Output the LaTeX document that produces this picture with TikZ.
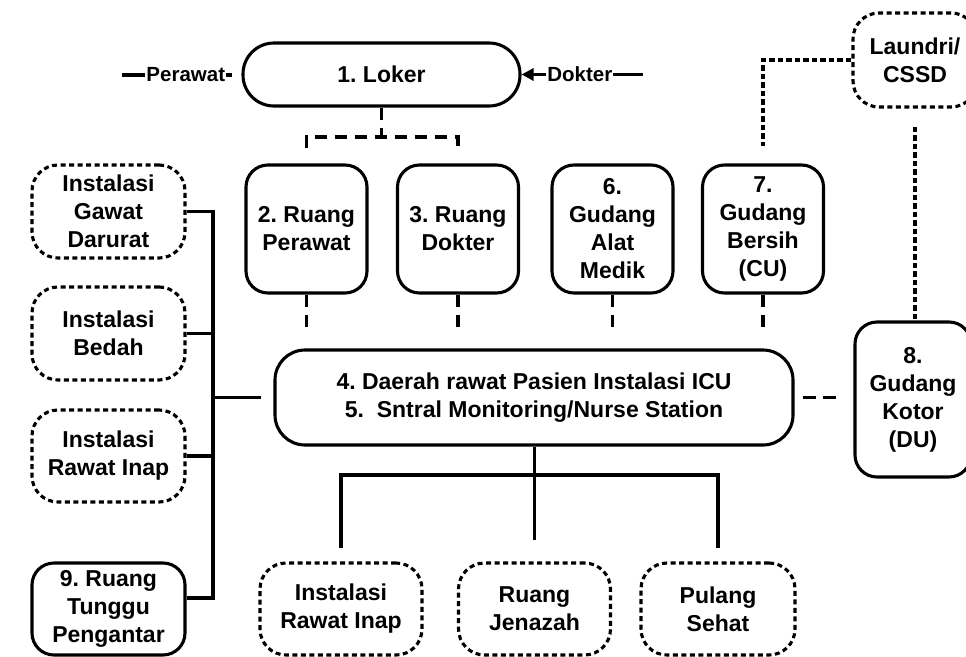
\documentclass[tikz,border=0pt]{standalone}
\usepackage{fontspec}
\setmainfont{Liberation Sans}
\usetikzlibrary{arrows.meta}
\frenchspacing
\newcommand\bxfont{\fontsize{23}{28}\selectfont\bfseries}
\newcommand\lblfont{\fontsize{20.5}{24}\selectfont\bfseries}
\tikzset{
  solidbox/.style={draw, line width=3.1pt, rounded corners=22pt, align=center,
    font=\bxfont, inner sep=0pt},
  dashbox/.style={solidbox, rounded corners=26pt, dash pattern=on 5pt off 3.5pt},
  conn/.style={line width=3.1pt},
  bigdash/.style={conn, dash pattern=on 12pt off 8pt},
  meddash/.style={conn, dash pattern=on 13pt off 7pt},
  dotline/.style={conn, dash pattern=on 5.5pt off 3pt},
  onlabel/.style={fill=white, inner sep=1pt, font=\lblfont},
}
\begin{document}
\begin{tikzpicture}[x=1pt, y=-1pt]
\useasboundingbox (0,0) rectangle (966,656);

% top: lockers
\node[solidbox, rounded corners=31pt, minimum width=277pt, minimum height=63pt] (loker) at (381.5,74.5) {1. Loker};

% row of rooms
\node[solidbox, minimum width=121pt, minimum height=128pt] (r2) at (306.5,229) {2. Ruang\\Perawat};
\node[solidbox, minimum width=121pt, minimum height=128pt] (r3) at (458,229) {3. Ruang\\Dokter};
\node[solidbox, minimum width=121pt, minimum height=128pt] (g6) at (612.5,229) {6.\\Gudang\\Alat\\Medik};
\node[solidbox, minimum width=121pt, minimum height=128pt] (g7) at (763,229) {7.\\Gudang\\Bersih\\(CU)};

% right column
\node[dashbox, minimum width=124pt, minimum height=94pt] (laundri) at (915,60) {Laundri/\\CSSD};
\node[solidbox, minimum width=116pt, minimum height=155pt] (g8) at (913,399.5) {8.\\Gudang\\Kotor\\(DU)};

% central care area
\node[solidbox, rounded corners=30pt, minimum width=518pt, minimum height=95pt] (central) at (534,397.5)
  {4. Daerah rawat Pasien Instalasi ICU\\5.\ \ Sntral Monitoring/Nurse Station};

% left column
\node[dashbox, minimum width=153pt, minimum height=93pt] (igd) at (108.5,211.5) {Instalasi\\Gawat\\Darurat};
\node[dashbox, minimum width=153pt, minimum height=93pt] (bedah) at (108.5,333.5) {Instalasi\\Bedah};
\node[dashbox, minimum width=153pt, minimum height=92pt] (rinap) at (108.5,456) {Instalasi\\Rawat Inap};
\node[solidbox, minimum width=153pt, minimum height=92pt] (r9) at (108.5,609) {9. Ruang\\Tunggu\\Pengantar};

% bottom row
\node[dashbox, minimum width=162pt, minimum height=92pt] (birinap) at (341,609) {Instalasi\\Rawat Inap};
\node[dashbox, minimum width=152pt, minimum height=92pt] (jenazah) at (534.5,609) {Ruang\\Jenazah};
\node[dashbox, minimum width=154pt, minimum height=92pt] (pulang) at (718,609) {Pulang\\Sehat};

% entry lines to the lockers
\coordinate (pl) at (122,75);
\coordinate (pr) at (232,75);
\draw[conn] (pl) -- node[onlabel, pos=0.58] (lblp) {Perawat} (pr);
\coordinate (dk) at (643,74.5);
\draw[conn, -{Triangle[length=12pt, width=12pt]}] (dk) -- node[onlabel, pos=0.52] (lbld) {Dokter} (loker.east);

% lockers to staff rooms
\coordinate (lkj) at (381.5,137);
\coordinate (lk2) at ([yshift=15pt]r2.north);
\coordinate (lk3) at ([yshift=15pt]r3.north);
\draw[bigdash] (loker.south) -- (lkj);
\draw[bigdash] (lk2) |- (lkj) -| (lk3);

% stubs from the rooms towards the care area
\foreach \b in {r2,r3,g6,g7}{
  \coordinate (s-\b) at ([yshift=-34pt]\b.south);
  \draw[bigdash] (\b.south) -- (s-\b);
}

% laundry links
\coordinate (l7) at ([yshift=17pt]g7.north);
\draw[dotline] (laundri.west) -| (l7);
\coordinate (lu8) at ([yshift=-18pt]laundri.south);
\draw[dotline] (lu8) -- (lu8 |- g8.north);

% care area to dirty utility
\coordinate (c8a) at ([xshift=8pt]central.east);
\coordinate (c8b) at ([xshift=44pt]central.east);
\draw[meddash] (c8a) -- (c8b);

% left bus
\coordinate (bus) at (213,397.5);
\coordinate (c4l) at ([xshift=-12pt]central.west);
\draw[conn] (igd.east) -| (bus) |- ([yshift=11pt]r9.east);
\draw[conn] (bedah.east) -- (bedah.east -| bus);
\draw[conn] (rinap.east) -- (rinap.east -| bus);
\draw[conn] (bus) -- (c4l);

% bottom tree
\coordinate (bj) at (534.5,475);
\draw[conn] (central.south -| bj) -- ([yshift=21pt]jenazah.north);
\draw[conn] ([yshift=13pt]birinap.north) |- (bj) -| ([yshift=13pt]pulang.north);
\end{tikzpicture}
\end{document}
